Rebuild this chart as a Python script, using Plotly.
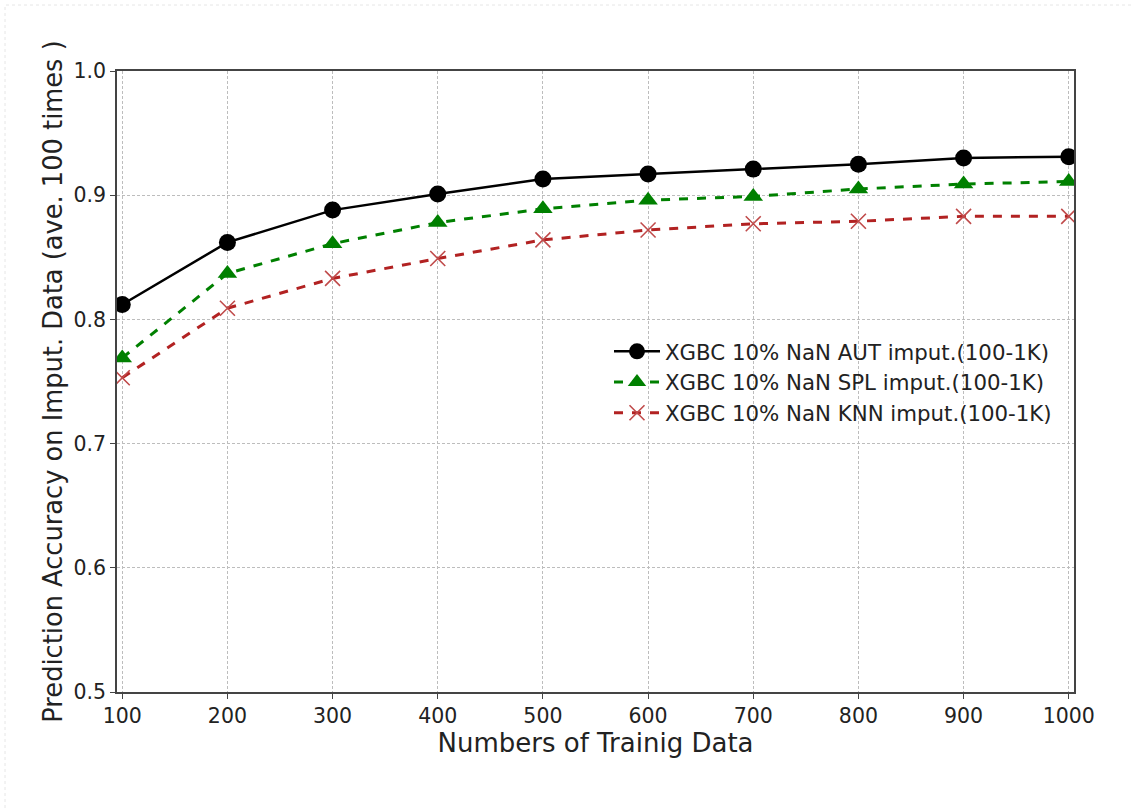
import plotly.graph_objects as go

x_vals = [100, 200, 300, 400, 500, 600, 700, 800, 900, 1000]
aut = [0.812, 0.862, 0.888, 0.901, 0.913, 0.917, 0.921, 0.925, 0.930, 0.931]
spl = [0.769, 0.837, 0.861, 0.878, 0.889, 0.896, 0.899, 0.905, 0.909, 0.911]
knn = [0.753, 0.809, 0.833, 0.849, 0.864, 0.872, 0.877, 0.879, 0.883, 0.883]
names = ["XGBC 10% NaN AUT imput.(100-1K)",
         "XGBC 10% NaN SPL imput.(100-1K)",
         "XGBC 10% NaN KNN imput.(100-1K)"]
x_ticks = [100, 200, 300, 400, 500, 600, 700, 800, 900, 1000]
y_ticks = [0.5, 0.6, 0.7, 0.8, 0.9, 1.0]

FONT = "DejaVu Sans"

fig = go.Figure()
fig.add_trace(go.Scatter(x=x_vals, y=aut, name=names[0], mode="lines+markers",
                         line=dict(color="black", width=2.5),
                         marker=dict(symbol="circle", size=17, color="black")))
fig.add_trace(go.Scatter(x=x_vals, y=spl, name=names[1], mode="lines+markers",
                         line=dict(color="#008000", width=3, dash="dash"),
                         marker=dict(symbol="triangle-up", size=17, color="#008000")))
fig.add_trace(go.Scatter(x=x_vals, y=knn, name=names[2], mode="lines+markers",
                         line=dict(color="#b22222", width=3, dash="dash"),
                         marker=dict(symbol="x-thin", size=15,
                                     line=dict(color="#c04a4a", width=1.6))))

W, H = 1132, 809
L, R, T, B = 117, 58, 71, 117
pw, ph = W - L - R, H - T - B

fig.update_layout(
    width=W, height=H,
    margin=dict(l=L, r=R, t=T, b=B, pad=0),
    paper_bgcolor="white", plot_bgcolor="white",
    font=dict(family=FONT, color="#222222", size=21),
    showlegend=True,
    legend=dict(x=(609 - L) / pw, y=(H - B - 331) / ph, xanchor="left", yanchor="top",
                bgcolor="rgba(0,0,0,0)", borderwidth=0,
                font=dict(family=FONT, size=21.3, color="#222222"),
                itemwidth=46, tracegroupgap=0),
    xaxis=dict(range=[95, 1005], tickvals=x_ticks, ticktext=[str(v) for v in x_ticks],
               showgrid=True, gridcolor="#bdbdbd", griddash="3px,2px", gridwidth=1,
               showline=True, linecolor="#444444", linewidth=1.5, mirror=True,
               ticks="outside", ticklen=5, tickcolor="#444444", zeroline=False,
               tickfont=dict(family=FONT, size=20.5, color="#222222"),
               title=dict(text="Numbers of Trainig Data", standoff=3,
                          font=dict(family=FONT, size=26, color="#222222"))),
    yaxis=dict(range=[0.5, 1.0], tickvals=y_ticks, ticktext=[f"{v:.1f}" for v in y_ticks],
               showgrid=True, gridcolor="#bdbdbd", griddash="3px,2px", gridwidth=1,
               showline=True, linecolor="#444444", linewidth=1.5, mirror=True,
               ticks="outside", ticklen=5, tickcolor="#444444", zeroline=False,
               tickfont=dict(family=FONT, size=20.5, color="#222222"),
               title=dict(text="Prediction Accuracy on Imput. Data (ave. 100 times )", standoff=4,
                          font=dict(family=FONT, size=25.7, color="#222222"))),
)

# faint outer frame of the original image
fig.add_shape(type="rect", xref="paper", yref="paper",
              x0=(5 - L) / pw, x1=(W + 20 - L) / pw,
              y0=(H - B - (H + 20)) / ph, y1=(H - B - 5) / ph,
              line=dict(color="#e6e6e6", width=1, dash="dot"), layer="below")

fig.write_html("out.html")
